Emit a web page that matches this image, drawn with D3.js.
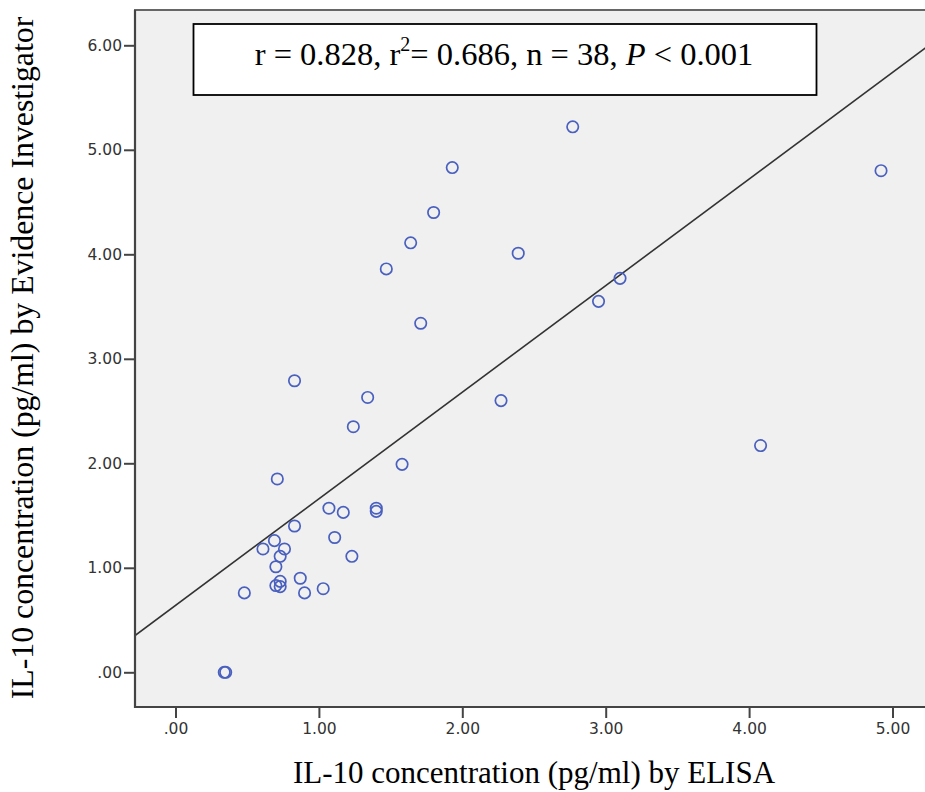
<!DOCTYPE html>
<html>
<head>
<meta charset="utf-8">
<script src="https://cdn.jsdelivr.net/npm/d3@7"></script>
<style>
  body { margin: 0; background: #fff; }
  svg { display: block; }
</style>
</head>
<body>
<svg id="chart" width="925" height="792"></svg>
<script>
// values
var elisa = [0.34, 0.35, 0.48, 0.61, 0.69, 0.70, 0.70, 0.73, 0.73, 0.71,
             0.73, 0.76, 0.83, 0.83, 0.87, 0.90, 1.03, 1.07, 1.11, 1.17,
             1.23, 1.24, 1.34, 1.40, 1.40, 1.47, 1.58, 1.64, 1.71, 1.80,
             1.93, 2.27, 2.39, 2.77, 2.95, 3.10, 4.08, 4.92];
var evidence = [0.00, 0.00, 0.76, 1.18, 1.26, 1.01, 0.83, 0.87, 0.82, 1.85,
                1.11, 1.18, 1.40, 2.79, 0.90, 0.76, 0.80, 1.57, 1.29, 1.53,
                1.11, 2.35, 2.63, 1.57, 1.54, 3.86, 1.99, 4.11, 3.34, 4.40,
                4.83, 2.60, 4.01, 5.22, 3.55, 3.77, 2.17, 4.80];
var xTicks = [0, 1, 2, 3, 4, 5];
var yTicks = [0, 1, 2, 3, 4, 5, 6];
var fitSlope = 1.02, fitIntercept = 0.64;
var statsText = ["r = 0.828, r", "2", "= 0.686, n = 38, ", "P", " < 0.001"];
var xTitle = "IL-10 concentration (pg/ml) by ELISA";
var yTitle = "IL-10 concentration (pg/ml) by Evidence Investigator";

var frame = {left: 135, top: 10, right: 935, bottom: 707};

var x = d3.scaleLinear().domain([0, 5]).range([175.5, 892.5]);
var y = d3.scaleLinear().domain([0, 6]).range([672.3, 45.3]);

var fmt = function(d) { return d === 0 ? ".00" : d3.format(".2f")(d); };

var svg = d3.select("#chart");

svg.append("defs").append("clipPath").attr("id", "plotclip")
  .append("rect")
    .attr("x", frame.left).attr("y", frame.top)
    .attr("width", frame.right - frame.left).attr("height", frame.bottom - frame.top);

// plot background
svg.append("rect")
    .attr("x", frame.left).attr("y", frame.top)
    .attr("width", frame.right - frame.left).attr("height", frame.bottom - frame.top)
    .attr("fill", "#f0f0f0")
    .attr("stroke", "#666")
    .attr("stroke-width", 2);

// fit line
var x0 = x.invert(frame.left), x1 = x.invert(frame.right);
svg.append("line")
    .attr("clip-path", "url(#plotclip)")
    .attr("x1", x(x0)).attr("y1", y(fitIntercept + fitSlope * x0))
    .attr("x2", x(x1)).attr("y2", y(fitIntercept + fitSlope * x1))
    .attr("stroke", "#333")
    .attr("stroke-width", 1.6);

// points
svg.append("g")
  .selectAll("circle")
    .data(elisa)
  .enter().append("circle")
    .attr("cx", function(d) { return x(d); })
    .attr("cy", function(d, i) { return y(evidence[i]); })
    .attr("r", 5.7)
    .attr("fill", "none")
    .attr("stroke", "#4a60bf")
    .attr("stroke-width", 1.7);

// axes
var xAxis = d3.axisBottom(x).tickValues(xTicks).tickFormat(fmt).tickSize(11).tickPadding(5);
var yAxis = d3.axisLeft(y).tickValues(yTicks).tickFormat(fmt).tickSize(11).tickPadding(2);

var gx = svg.append("g")
    .attr("transform", "translate(0," + frame.bottom + ")")
    .call(xAxis);
var gy = svg.append("g")
    .attr("transform", "translate(" + frame.left + ",0)")
    .call(yAxis);

[gx, gy].forEach(function(g) {
  g.select(".domain").remove();
  g.selectAll(".tick line").attr("stroke", "#444").attr("stroke-width", 2);
  g.selectAll(".tick text")
      .attr("fill", "#333")
      .style("font-family", "'DejaVu Sans', sans-serif")
      .style("font-size", "15.5px");
});

svg.append("line")
    .attr("x1", frame.left).attr("x2", frame.left)
    .attr("y1", frame.top).attr("y2", frame.bottom + 1)
    .attr("stroke", "#444").attr("stroke-width", 2.2);
svg.append("line")
    .attr("x1", frame.left - 1).attr("x2", frame.right)
    .attr("y1", frame.bottom).attr("y2", frame.bottom)
    .attr("stroke", "#444").attr("stroke-width", 2.2);

// stats box
svg.append("rect")
    .attr("x", 193.5).attr("y", 24)
    .attr("width", 623).attr("height", 71)
    .attr("fill", "#fff")
    .attr("stroke", "#000")
    .attr("stroke-width", 1.8);

var st = svg.append("text")
    .attr("x", 504).attr("y", 65)
    .attr("text-anchor", "middle")
    .style("font-family", "'Liberation Serif', 'Times New Roman', serif")
    .style("font-size", "32.5px")
    .attr("fill", "#000");
st.append("tspan").text(statsText[0]);
st.append("tspan").attr("dy", -14).style("font-size", "20px").text(statsText[1]);
st.append("tspan").attr("dy", 14).text(statsText[2]);
st.append("tspan").style("font-style", "italic").text(statsText[3]);
st.append("tspan").text(statsText[4]);

// axis titles
svg.append("text")
    .attr("x", 534).attr("y", 783)
    .attr("text-anchor", "middle")
    .style("font-family", "'Liberation Serif', 'Times New Roman', serif")
    .style("font-size", "31px")
    .text(xTitle);

svg.append("text")
    .attr("transform", "translate(33,358) rotate(-90)")
    .attr("text-anchor", "middle")
    .style("font-family", "'Liberation Serif', 'Times New Roman', serif")
    .style("font-size", "31.8px")
    .text(yTitle);
</script>
</body>
</html>
